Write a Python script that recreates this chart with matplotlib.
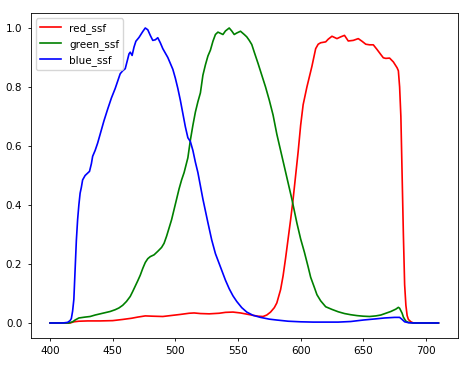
import matplotlib
matplotlib.use("Agg")
import matplotlib.pyplot as plt

# spectral sensitivity functions
red_wl = [400, 410, 416, 419, 423, 430, 440, 450, 458, 465, 470, 476, 482, 490, 496,
          504, 511, 515, 520, 527, 535, 540, 546, 552, 557, 562, 566, 570, 573, 576,
          579, 581, 584, 586, 588, 590, 592, 594, 596, 598, 600, 602, 605, 609, 612,
          614, 616, 620, 622, 625, 629, 632, 635, 638, 642, 646, 649, 652, 655, 658,
          661, 664, 666, 668, 671, 674, 677, 678, 679, 680, 681, 682, 683, 684, 685,
          686, 688, 690, 710]
red_ssf = [0, 0, 0, 0.004, 0.006, 0.007, 0.007, 0.008, 0.012, 0.016, 0.02, 0.024, 0.023,
           0.022, 0.025, 0.029, 0.033, 0.034, 0.032, 0.031, 0.033, 0.036, 0.037, 0.034,
           0.030, 0.026, 0.023, 0.022, 0.027, 0.037, 0.052, 0.068, 0.113, 0.16, 0.22,
           0.285, 0.35, 0.42, 0.50, 0.58, 0.67, 0.74, 0.80, 0.87, 0.93, 0.945, 0.95,
           0.953, 0.962, 0.972, 0.964, 0.97, 0.975, 0.956, 0.958, 0.964, 0.955, 0.945,
           0.943, 0.943, 0.927, 0.91, 0.899, 0.897, 0.898, 0.885, 0.865, 0.855, 0.80,
           0.70, 0.50, 0.30, 0.13, 0.06, 0.025, 0.012, 0.004, 0, 0]

green_wl = [400, 415, 418, 420, 423, 428, 432, 436, 440, 444, 448, 452, 455, 458, 461,
            464, 466, 468, 470, 472, 474, 476, 478, 480, 483, 486, 489, 491, 493, 495,
            497, 499, 501, 503, 505, 507, 510, 512, 514, 516, 518, 520, 522, 524, 526,
            528, 530, 532, 534, 536, 538, 540, 543, 545, 547, 549, 552, 555, 557, 559,
            561, 563, 566, 569, 572, 575, 578, 581, 584, 587, 590, 593, 597, 600, 603,
            606, 608, 611, 613, 616, 620, 625, 630, 635, 640, 645, 650, 655, 660, 664,
            668, 672, 676, 678, 679, 681, 682, 684, 686, 690, 710]
green_ssf = [0, 0, 0.004, 0.01, 0.017, 0.02, 0.022, 0.027, 0.031, 0.035, 0.039, 0.045,
             0.051, 0.060, 0.073, 0.09, 0.107, 0.125, 0.143, 0.162, 0.185, 0.205, 0.218,
             0.225, 0.231, 0.243, 0.256, 0.27, 0.294, 0.322, 0.35, 0.385, 0.42, 0.455,
             0.485, 0.51, 0.56, 0.62, 0.67, 0.715, 0.75, 0.78, 0.84, 0.875, 0.905, 0.925,
             0.955, 0.978, 0.986, 0.982, 0.978, 0.99, 1.0, 0.99, 0.978, 0.983, 0.989,
             0.978, 0.97, 0.958, 0.944, 0.918, 0.88, 0.84, 0.80, 0.755, 0.705, 0.64,
             0.585, 0.53, 0.475, 0.42, 0.339, 0.285, 0.24, 0.19, 0.155, 0.12, 0.096,
             0.075, 0.055, 0.046, 0.038, 0.032, 0.028, 0.025, 0.023, 0.022, 0.024, 0.027,
             0.033, 0.039, 0.047, 0.053, 0.05, 0.033, 0.02, 0.006, 0.002, 0, 0]

blue_wl = [400, 410, 414, 416, 417, 418, 419, 420, 421, 422, 423, 424, 425, 426, 428,
           430, 431.5, 433, 434, 436, 438, 440, 443, 446, 449, 452, 454, 456, 458, 460,
           462, 463, 464, 465.5, 467, 468.5, 471, 474, 476, 478, 480, 482, 484, 486,
           488, 490, 492, 494, 496, 498, 500, 502, 504, 506, 508, 510, 512, 514, 516,
           518, 520, 522, 524, 526, 529, 532, 536, 540, 543, 546, 549, 553, 557, 562,
           568, 575, 581, 590, 600, 610, 630, 640, 650, 660, 667, 675, 679, 681, 683,
           686, 690, 710]
blue_ssf = [0, 0, 0.002, 0.008, 0.015, 0.04, 0.08, 0.18, 0.28, 0.35, 0.40, 0.44, 0.46,
            0.485, 0.50, 0.508, 0.514, 0.54, 0.565, 0.585, 0.61, 0.64, 0.685, 0.725,
            0.763, 0.795, 0.82, 0.845, 0.855, 0.862, 0.895, 0.912, 0.918, 0.907, 0.935,
            0.955, 0.968, 0.988, 1.0, 0.994, 0.975, 0.958, 0.96, 0.967, 0.95, 0.93,
            0.915, 0.9, 0.88, 0.86, 0.83, 0.795, 0.755, 0.71, 0.665, 0.628, 0.615, 0.585,
            0.545, 0.51, 0.465, 0.42, 0.38, 0.34, 0.282, 0.235, 0.19, 0.145, 0.116,
            0.092, 0.073, 0.052, 0.037, 0.026, 0.019, 0.013, 0.01, 0.006, 0.004, 0.003,
            0.003, 0.005, 0.01, 0.014, 0.017, 0.019, 0.019, 0.012, 0.004, 0.001, 0, 0]

plt.rcParams['font.size'] = 7.5

fig, ax = plt.subplots(figsize=(4.74, 3.65), dpi=100)
fig.subplots_adjust(left=0.0646, right=0.966, bottom=0.0747, top=0.9637)

ax.plot(red_wl, red_ssf, color='red', lw=1.2, label='red_ssf')
ax.plot(green_wl, green_ssf, color='green', lw=1.2, label='green_ssf')
ax.plot(blue_wl, blue_ssf, color='blue', lw=1.2, label='blue_ssf')

ax.legend(loc='upper left')
ax.tick_params(length=2.5, width=0.6)
for s in ax.spines.values():
    s.set_linewidth(0.6)

fig.savefig('out.png', dpi=100)
